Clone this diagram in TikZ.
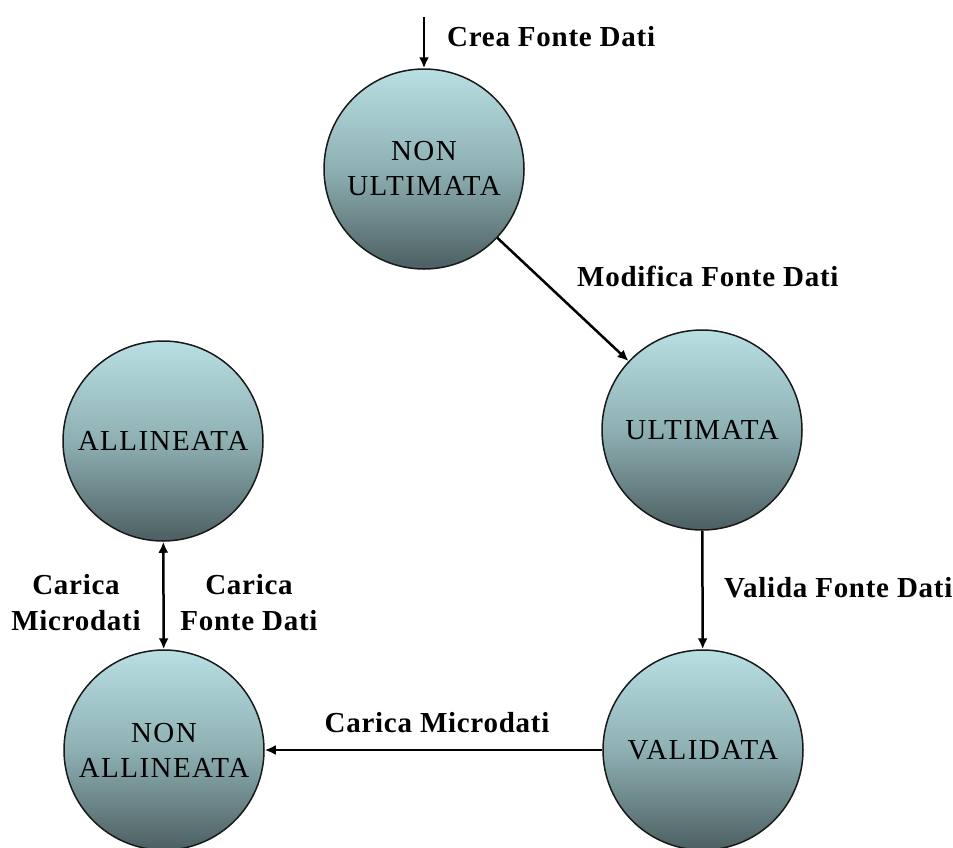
\documentclass[tikz,border=0pt]{standalone}
\usepackage{fontspec}
\setmainfont{Liberation Serif}
\newfontfamily\lblfont[LetterSpace=2.5]{Liberation Serif}
\newfontfamily\nodefont[LetterSpace=5]{Liberation Serif}
\usetikzlibrary{arrows.meta}
\definecolor{ctop}{RGB}{184,223,226}
\definecolor{cmid}{RGB}{142,176,179}
\definecolor{cbot}{RGB}{76,95,98}
\definecolor{cedge}{RGB}{25,25,25}
\tikzset{
  state/.style={circle, minimum size=200pt, inner sep=0pt, draw=cedge, line width=1.5pt,
    top color=ctop, bottom color=cbot, middle color=cmid, align=center,
    font=\nodefont\fontsize{29}{35}\selectfont},
  lbl/.style={font=\lblfont\fontsize{29}{36}\selectfont\bfseries, align=center, inner sep=0pt},
  arr/.style={line width=2.5pt, -{Latex[length=11pt,width=10pt]}},
  darr/.style={line width=2.5pt, {Latex[length=11pt,width=10pt]}-{Latex[length=11pt,width=10pt]}}
}
\begin{document}
\begin{tikzpicture}[x=1pt,y=-1pt]
\useasboundingbox (0,0) rectangle (953,847);
\fill[white] (0,0) rectangle (953,847);
\node[state] (nu) at (424,169) {NON\\ULTIMATA};
\node[state] (u)  at (702,430) {ULTIMATA};
\node[state] (a)  at (163,441) {ALLINEATA};
\node[state] (na) at (164,750) {NON\\ALLINEATA};
\node[state] (v)  at (703,750) {VALIDATA};
\coordinate (start) at (424,17);
\draw[arr] (start) -- (nu);
\draw[arr] (nu) -- (u);
\draw[arr] (u) -- (v);
\draw[arr] (v) -- (na);
\draw[darr] (a) -- (na);
\node[lbl, anchor=west] (l1) at (447,37) {Crea Fonte Dati};
\node[lbl, anchor=west] (l2) at (577,276) {Modifica Fonte Dati};
\node[lbl, anchor=west] (l3) at (724,588) {Valida Fonte Dati};
\node[lbl] (l4) at (437,723) {Carica Microdati};
\node[lbl] (l5) at (76,603) {Carica\\Microdati};
\node[lbl] (l6) at (249,603) {Carica\\Fonte Dati};
\end{tikzpicture}
\end{document}
